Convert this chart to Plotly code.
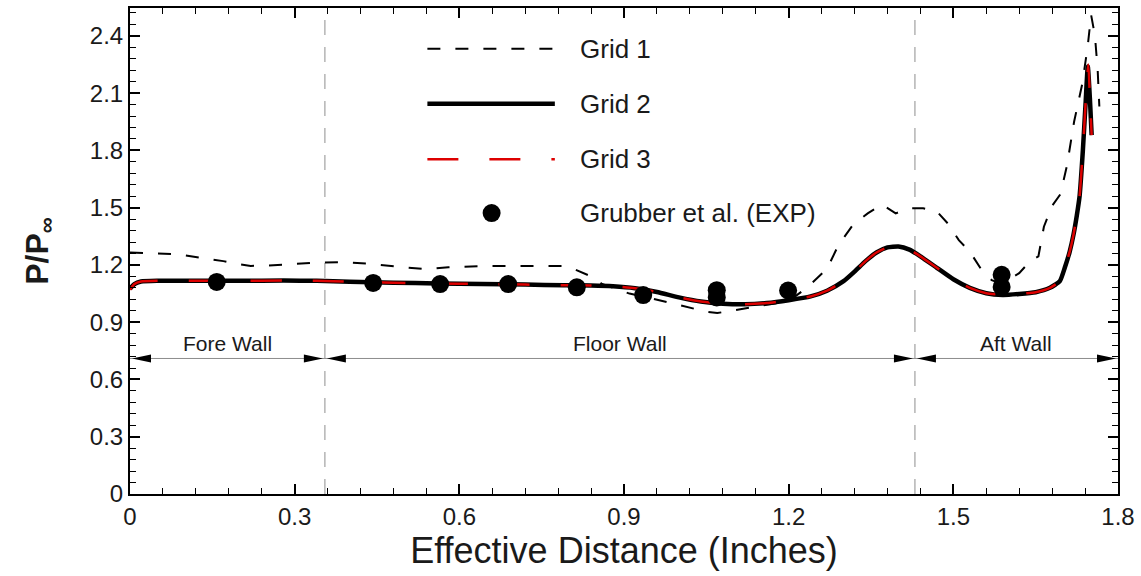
import plotly.graph_objects as go

# ---- pressure ratio along the cavity walls ----
grid1_x = [0.0, 0.04, 0.09, 0.13, 0.17, 0.195, 0.22, 0.25, 0.29, 0.34, 0.39, 0.44, 0.49, 0.54,
           0.58, 0.65, 0.72, 0.79, 0.81, 0.84, 0.86, 0.89, 0.91, 0.95, 1.0, 1.05, 1.07, 1.1,
           1.15, 1.2, 1.235, 1.27, 1.29, 1.317, 1.344, 1.37, 1.395, 1.42, 1.445, 1.47, 1.49,
           1.51, 1.53, 1.55, 1.57, 1.59, 1.605, 1.62, 1.64, 1.655, 1.665, 1.68, 1.695, 1.707,
           1.72, 1.735, 1.745, 1.751, 1.758, 1.763, 1.766]
grid1_y = [1.265, 1.262, 1.255, 1.237, 1.22, 1.205, 1.195, 1.196, 1.202, 1.212, 1.215, 1.205,
           1.19, 1.178, 1.188, 1.195, 1.195, 1.195, 1.177, 1.14, 1.10, 1.07, 1.05, 1.025, 0.99,
           0.955, 0.948, 0.962, 0.985, 1.01, 1.085, 1.18, 1.30, 1.41, 1.47, 1.516, 1.47, 1.497,
           1.497, 1.48, 1.417, 1.33, 1.27, 1.18, 1.12, 1.10, 1.13, 1.157, 1.22, 1.245, 1.40,
           1.51, 1.57, 1.72, 1.95, 2.15, 2.35, 2.51, 2.40, 2.22, 2.03]

grid2_x = [0.0, 0.008, 0.02, 0.05, 0.12, 0.2, 0.28, 0.34, 0.4, 0.48, 0.56, 0.64, 0.72, 0.79,
           0.84, 0.88, 0.92, 0.96, 1.0, 1.04, 1.08, 1.12, 1.16, 1.2, 1.24, 1.27, 1.3, 1.32,
           1.34, 1.36, 1.38, 1.40, 1.42, 1.44, 1.47, 1.5, 1.53, 1.56, 1.59, 1.62, 1.65, 1.676,
           1.694, 1.703, 1.712, 1.719, 1.725, 1.730, 1.736, 1.741, 1.745, 1.749, 1.752]
grid2_y = [1.075, 1.10, 1.113, 1.117, 1.117, 1.117, 1.118, 1.117, 1.112, 1.107, 1.103, 1.10,
           1.097, 1.094, 1.092, 1.088, 1.078, 1.058, 1.03, 1.008, 0.997, 0.994, 1.0, 1.015,
           1.035, 1.065, 1.115, 1.165, 1.22, 1.265, 1.292, 1.297, 1.28, 1.245, 1.185, 1.125,
           1.08, 1.052, 1.043, 1.048, 1.057, 1.08, 1.115, 1.185, 1.27, 1.36, 1.46, 1.56, 1.80,
           2.05, 2.24, 2.06, 1.88]

grid3_x = [0.0, 0.008, 0.02, 0.05, 0.12, 0.2, 0.28, 0.34, 0.4, 0.48, 0.56, 0.64, 0.72, 0.79,
           0.84, 0.88, 0.92, 0.96, 1.0, 1.04, 1.08, 1.12, 1.16, 1.2, 1.24, 1.27, 1.3, 1.32,
           1.34, 1.36, 1.38, 1.40, 1.42, 1.44, 1.47, 1.5, 1.53, 1.56, 1.59, 1.62, 1.65, 1.676,
           1.694, 1.703, 1.712, 1.719, 1.725, 1.730, 1.736, 1.741, 1.746, 1.749, 1.752]
grid3_y = [1.07, 1.10, 1.113, 1.117, 1.117, 1.117, 1.118, 1.117, 1.112, 1.107, 1.103, 1.10,
           1.097, 1.094, 1.092, 1.088, 1.078, 1.058, 1.03, 1.008, 0.997, 0.994, 1.0, 1.015,
           1.035, 1.065, 1.115, 1.165, 1.22, 1.265, 1.292, 1.297, 1.28, 1.245, 1.185, 1.125,
           1.08, 1.052, 1.043, 1.048, 1.057, 1.08, 1.115, 1.185, 1.27, 1.36, 1.46, 1.56, 1.80,
           2.05, 2.25, 2.06, 1.88]

exp_x = [0.158, 0.443, 0.565, 0.689, 0.814, 0.935, 1.069, 1.069, 1.199, 1.588, 1.588]
exp_y = [1.111, 1.106, 1.100, 1.100, 1.083, 1.042, 1.068, 1.030, 1.066, 1.148, 1.085]

series_names = ["Grid 1", "Grid 2", "Grid 3", "Grubber et al. (EXP)"]

# wall extents along the effective distance
wall_bounds = [0.0, 0.355, 1.43, 1.8]
wall_names = ["Fore Wall", "Floor Wall", "Aft Wall"]
wall_level = 0.71

FONT = "Liberation Sans, Arial, sans-serif"
INK = "#1a1a1a"
RED = "#dd0000"

grid1_line = dict(color="black", width=2, dash="13px,15px")
grid2_line = dict(color="black", width=4.5)
grid3_line = dict(color=RED, width=2.5, dash="31px,31px")

fig = go.Figure()
fig.add_trace(go.Scatter(x=grid1_x, y=grid1_y, mode="lines", name=series_names[0],
                         line=grid1_line, showlegend=False))
fig.add_trace(go.Scatter(x=grid2_x, y=grid2_y, mode="lines", name=series_names[1],
                         line=dict(**grid2_line, shape="spline", smoothing=0.5), showlegend=False))
fig.add_trace(go.Scatter(x=grid3_x, y=grid3_y, mode="lines", name=series_names[2],
                         line=dict(**grid3_line, shape="spline", smoothing=0.5), showlegend=False))
fig.add_trace(go.Scatter(x=exp_x, y=exp_y, mode="markers", name=series_names[3],
                         marker=dict(color="black", size=18, line=dict(width=0)),
                         showlegend=False))

shapes = []
annotations = []

# dashed wall boundaries
for xb in wall_bounds[1:-1]:
    shapes.append(dict(type="line", xref="x", yref="paper", x0=xb, x1=xb, y0=0, y1=1,
                       line=dict(color="#b4b4b4", width=1.5, dash="15px,12px"), layer="below"))

# dimension arrows for each wall
for i, name in enumerate(wall_names):
    a, b = wall_bounds[i], wall_bounds[i + 1]
    shapes.append(dict(type="line", xref="x", yref="y", x0=a, x1=b, y0=wall_level, y1=wall_level,
                       line=dict(color="#8c8c8c", width=1)))
    shapes.append(dict(type="path", xref="x", yref="y", xsizemode="pixel", ysizemode="pixel",
                       xanchor=a, yanchor=wall_level, path="M2,0 L21,4 L21,-4 Z",
                       fillcolor="black", line=dict(width=0)))
    shapes.append(dict(type="path", xref="x", yref="y", xsizemode="pixel", ysizemode="pixel",
                       xanchor=b, yanchor=wall_level, path="M-2,0 L-21,4 L-21,-4 Z",
                       fillcolor="black", line=dict(width=0)))
    annotations.append(dict(x=(a + b) / 2, y=wall_level, xref="x", yref="y", text=name,
                            showarrow=False, yanchor="bottom", yshift=1,
                            font=dict(family=FONT, size=21, color=INK)))

# legend block
leg_rows = [0.916, 0.803, 0.689, 0.578]
leg_x0, leg_x1, leg_text_x, leg_dot_x = 0.301, 0.430, 0.453, 0.366
for row, style in zip(leg_rows[:3], [grid1_line, grid2_line, grid3_line]):
    shapes.append(dict(type="line", xref="paper", yref="paper", x0=leg_x0, x1=leg_x1,
                       y0=row, y1=row, line=style))
shapes.append(dict(type="circle", xref="paper", yref="paper", xsizemode="pixel", ysizemode="pixel",
                   xanchor=leg_dot_x, yanchor=leg_rows[3], x0=-9, x1=9, y0=-9, y1=9,
                   fillcolor="black", line=dict(width=0)))
for row, name in zip(leg_rows, series_names):
    annotations.append(dict(x=leg_text_x, y=row, xref="paper", yref="paper", text=name,
                            showarrow=False, xanchor="left", yanchor="middle",
                            font=dict(family=FONT, size=26, color=INK)))

axis_common = dict(
    showline=True, linecolor="black", linewidth=2, mirror="allticks",
    ticks="inside", ticklen=10, tickwidth=2, tickcolor="black",
    showgrid=False, zeroline=False,
    tickfont=dict(family=FONT, size=24, color=INK),
    minor=dict(ticks="inside", ticklen=6, tickwidth=1, tickcolor="black", dtick=0.06, showgrid=False),
)

fig.update_layout(
    width=1141, height=576,
    margin=dict(l=130, r=23, t=6, b=82),
    paper_bgcolor="white", plot_bgcolor="white",
    shapes=shapes, annotations=annotations,
    xaxis=dict(range=[0, 1.8], tick0=0, dtick=0.3,
               title=dict(text="Effective Distance (Inches)", standoff=6,
                          font=dict(family=FONT, size=36, color=INK)),
               **axis_common),
    yaxis=dict(range=[0, 2.546], tick0=0, dtick=0.3,
               title=dict(text="<b>P/P<sub>∞</sub></b>", standoff=32,
                          font=dict(family=FONT, size=32, color=INK)),
               **axis_common),
)

fig.write_html("out.html")
